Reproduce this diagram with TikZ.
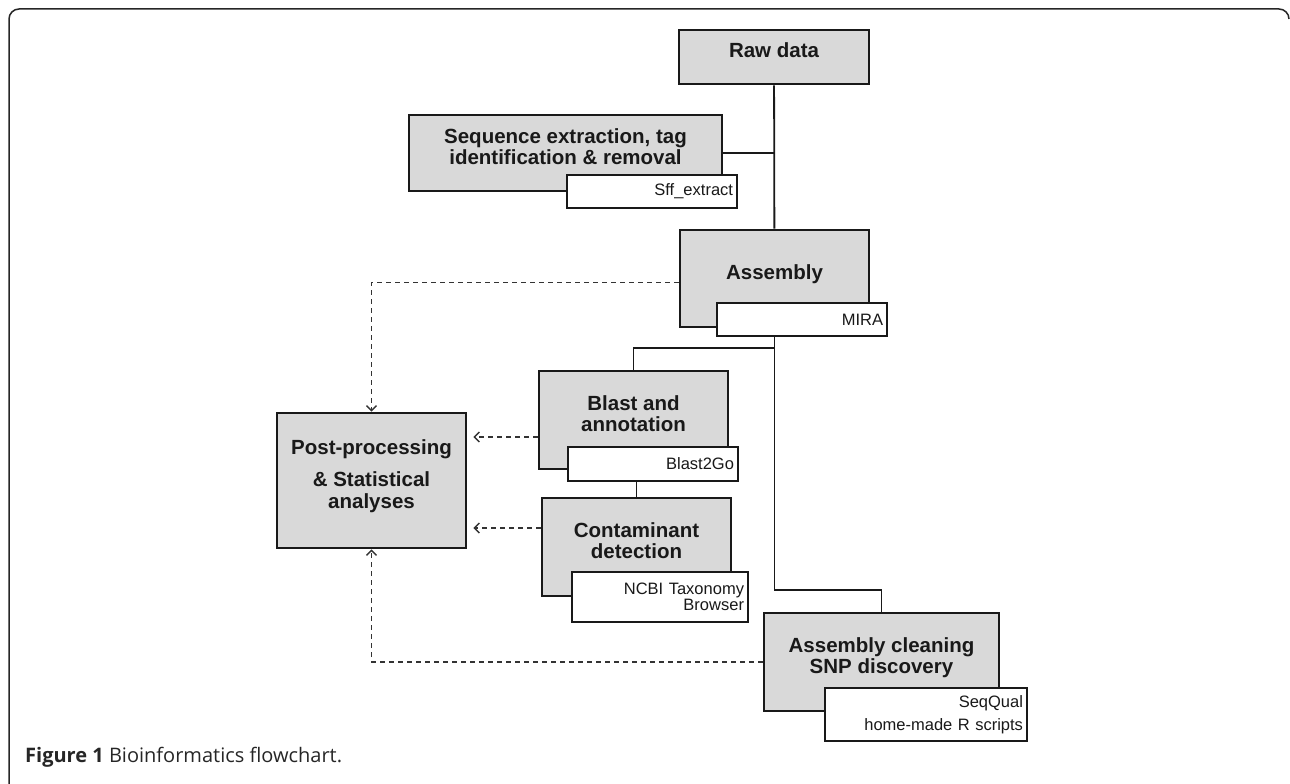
\documentclass[tikz,border=0pt]{standalone}
\usepackage{fontspec}
\setmainfont{Liberation Sans}
\newfontfamily\capfont{Open Sans}
\usetikzlibrary{arrows.meta}

\begin{document}
\begin{tikzpicture}[x=1pt,y=-1pt,>={Straight Barb[length=5pt,width=10pt]},
    stepbox/.style={draw=black!90,fill=black!15,line width=2.7pt,text=black!90,align=center,inner sep=0pt,
        font=\fontsize{20.5}{21.7}\selectfont\bfseries,execute at end node={\rule[-13pt]{0pt}{13pt}}},
    toolbox/.style={draw=black!90,fill=white,line width=2pt,text=black!90,align=right,inner xsep=4pt,inner ysep=0pt,
        font=\fontsize{16.5}{19}\selectfont},
    link/.style={draw=black!90,line width=1.8pt},
    dlink/.style={draw=black!80,line width=1.4pt,dash pattern=on 5pt off 4pt,->}]
        \useasboundingbox(0,0)rectangle(1290,784);
        \draw[black!85,line width=1.5pt,rounded corners=10pt](9,784)--(9,9)--(1289,9)--(1289,19);
        % main steps
        \node[stepbox,minimum width=190pt,minimum height=54pt](raw)at(774,57){Raw data};
        \node[stepbox,minimum width=313pt,minimum height=76pt](seq)at(565.5,153){Sequence extraction, tag\\identification \& removal};
        \node[stepbox,minimum width=189pt,minimum height=97pt](asm)at(774.5,278.5){Assembly};
        \node[stepbox,minimum width=189pt,minimum height=98pt](blast)at(633.5,420){Blast and\\annotation};
        \node[stepbox,minimum width=189pt,minimum height=98pt](cont)at(636.5,547){Contaminant\\detection};
        \node[stepbox,minimum width=189pt,minimum height=135pt](post)at(371.5,480.5){Post-processing\\[10pt]\& Statistical\\analyses};
        \node[stepbox,minimum width=235pt,minimum height=98pt](clean)at(881.5,662){Assembly cleaning\\SNP discovery};
        % tools
        \node[toolbox,text width=162pt,minimum height=33pt](sff)at(652,191.5){Sff\_extract};
        \node[toolbox,text width=162pt,minimum height=33pt](mira)at(802,319.5){MIRA};
        \node[toolbox,text width=162pt,minimum height=34pt](b2go)at(653,464){Blast2Go};
        \node[toolbox,text width=168pt,minimum height=50pt](ncbi)at(660,597){NCBI Taxonomy\\[-3pt]Browser};
        \node[toolbox,text width=194pt,minimum height=53pt](seqq)at(926,714.5){SeqQual\\[4pt]home-made R scripts};
        % solid links
        \draw[link](raw)--(asm);
        \draw[link](seq.east)--(seq.east-|raw.south);
        \draw[link](asm.north|-mira.south)|-([yshift=22pt]clean.north)--(clean.north);
        \draw[link]([yshift=22pt]blast.north-|asm.north)-|(blast.north);
        \draw[link](cont.north|-b2go.south)--(cont.north);
        % dashed links
        \draw[dlink]([yshift=-4pt]asm.west)-|(post.north);
        \draw[dlink,shorten >=6pt]([yshift=-17pt]blast.west)--([yshift=-17pt]blast.west-|post.east);
        \draw[dlink,shorten >=6pt]([yshift=19pt]cont.west)--([yshift=19pt]cont.west-|post.east);
        \draw[dlink](clean.west)-|(post.south);
        \node[anchor=west,inner sep=0pt,text=black!85,font=\capfont\fontsize{20}{22}\selectfont](cap)at(25,757){\textbf{Figure 1} Bioinformatics flowchart.};
    \end{tikzpicture}
\end{document}
